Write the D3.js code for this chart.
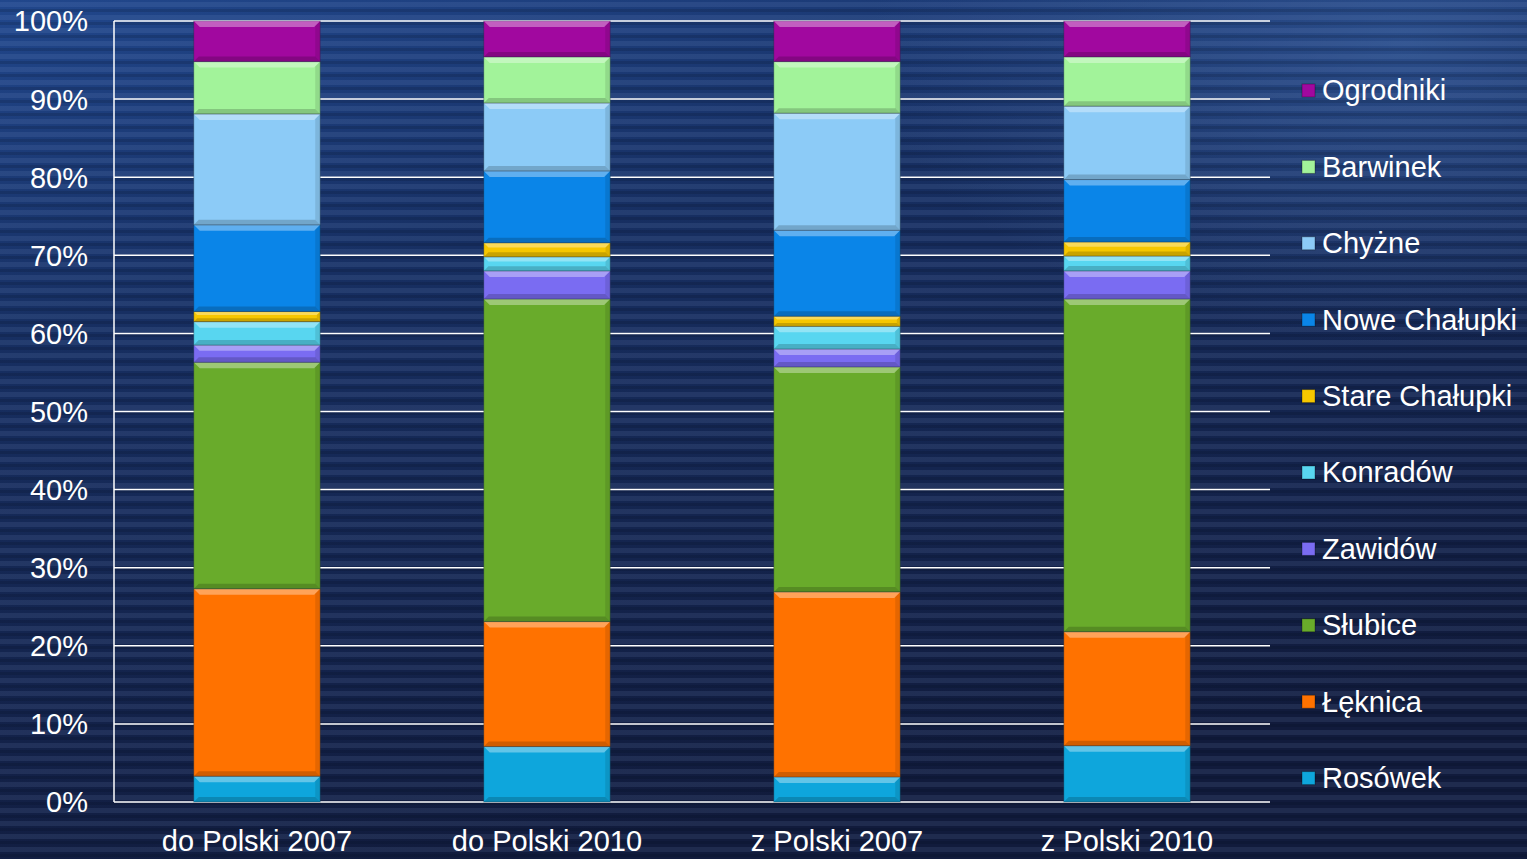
<!DOCTYPE html>
<html>
<head>
<meta charset="utf-8">
<script src="https://cdn.jsdelivr.net/npm/d3@7"></script>
<style>
  html, body { margin: 0; padding: 0; background: #14234a; }
  svg { display: block; font-family: "Liberation Sans", Arial, sans-serif; }
</style>
</head>
<body>
<svg id="chart" width="1527" height="859"></svg>
<script>
// categories along the x axis
const categories = ["do Polski 2007", "do Polski 2010", "z Polski 2007", "z Polski 2010"];

// series, bottom to top of the stack
const series = ["Rosówek", "Łęknica", "Słubice", "Zawidów", "Konradów",
                "Stare Chałupki", "Nowe Chałupki", "Chyżne", "Barwinek", "Ogrodniki"];

// shares in % per category (same order as categories)
const rosowek       = [3.3, 7.1, 3.2, 7.2];
const leknica       = [24.0, 16.0, 23.7, 14.6];
const slubice       = [29.0, 41.3, 28.8, 42.6];
const zawidow       = [2.2, 3.6, 2.3, 3.6];
const konradow      = [3.0, 1.8, 2.9, 1.9];
const stareChalupki = [1.3, 1.8, 1.3, 1.8];
const noweChalupki  = [11.1, 9.2, 11.0, 8.0];
const chyzne        = [14.2, 8.7, 15.0, 9.4];
const barwinek      = [6.7, 5.9, 6.6, 6.3];
const ogrodniki     = [5.2, 4.6, 5.2, 4.6];

const yTicks = [0, 10, 20, 30, 40, 50, 60, 70, 80, 90, 100];

const colors = ["#0ea6dc", "#ff7200", "#69ab2b", "#7a6cf2", "#58d6f0",
                "#f6c700", "#0a85e8", "#8ccbf7", "#a2f39a", "#a1089f"];

const values = [rosowek, leknica, slubice, zawidow, konradow,
                stareChalupki, noweChalupki, chyzne, barwinek, ogrodniki];

// build rows for d3.stack
const rows = categories.map(function(c, i) {
  let r = { cat: c };
  series.forEach(function(s, j) { r[s] = values[j][i]; });
  return r;
});

const width = 1527, height = 859;
const fontSize = "29px";
const svg = d3.select("#chart");
const defs = svg.append("defs");

// background: navy gradient + horizontal stripes
const bg = defs.append("linearGradient").attr("id", "bg")
  .attr("x1", 0).attr("y1", 0).attr("x2", 0.35).attr("y2", 1);
bg.append("stop").attr("offset", "0%").attr("stop-color", "#21478c");
bg.append("stop").attr("offset", "35%").attr("stop-color", "#172f62");
bg.append("stop").attr("offset", "100%").attr("stop-color", "#111b3c");

const bg2 = defs.append("radialGradient").attr("id", "bg2")
  .attr("cx", 0.92).attr("cy", 0.05).attr("r", 0.35);
bg2.append("stop").attr("offset", "0%").attr("stop-color", "#3a64a8").attr("stop-opacity", 0.55);
bg2.append("stop").attr("offset", "100%").attr("stop-color", "#3a64a8").attr("stop-opacity", 0);

const stripes = defs.append("pattern").attr("id", "stripes")
  .attr("patternUnits", "userSpaceOnUse").attr("width", 20).attr("height", 13);
stripes.append("rect").attr("width", 20).attr("height", 5).attr("y", 2)
  .attr("fill", "#8fb0e6").attr("opacity", 0.11);
stripes.append("rect").attr("width", 20).attr("height", 3).attr("y", 9)
  .attr("fill", "#000814").attr("opacity", 0.15);

svg.append("rect").attr("width", width).attr("height", height).attr("fill", "url(#bg)");
svg.append("rect").attr("width", width).attr("height", height).attr("fill", "url(#bg2)");
svg.append("rect").attr("width", width).attr("height", height).attr("fill", "url(#stripes)");

const margin = { left: 114, right: 257, top: 21, bottom: 57 };
const plotW = width - margin.left - margin.right;   // 1156
const plotH = height - margin.top - margin.bottom;  // 781

const x = d3.scaleBand().domain(categories)
  .range([margin.left, margin.left + plotW])
  .paddingInner(0.564).paddingOuter(0.275);
const y = d3.scaleLinear().domain([0, 100]).range([margin.top + plotH, margin.top]);

// gridlines
svg.append("g").selectAll("line").data(yTicks).enter().append("line")
  .attr("x1", margin.left).attr("x2", margin.left + plotW)
  .attr("y1", d => y(d)).attr("y2", d => y(d))
  .attr("stroke", "#ffffff").attr("stroke-width", 1.5);

// y axis line
svg.append("line")
  .attr("x1", margin.left).attr("x2", margin.left)
  .attr("y1", y(0)).attr("y2", y(100))
  .attr("stroke", "#ffffff").attr("stroke-width", 1.5);

// y tick labels
svg.append("g").selectAll("text").data(yTicks).enter().append("text")
  .attr("x", 88).attr("y", d => y(d)).attr("dy", "0.36em")
  .attr("text-anchor", "end").attr("fill", "#ffffff")
  .style("font-size", fontSize)
  .text(d => d + "%");

// x labels
svg.append("g").selectAll("text").data(categories).enter().append("text")
  .attr("x", d => x(d) + x.bandwidth() / 2).attr("y", 851)
  .attr("text-anchor", "middle").attr("fill", "#ffffff")
  .style("font-size", fontSize)
  .text(d => d);

// stacked bars
const stacked = d3.stack().keys(series)(rows);

const layer = svg.append("g").selectAll("g").data(stacked).enter().append("g")
  .attr("fill", (d, i) => colors[i]);

const seg = layer.selectAll("g").data(d => d).enter().append("g");

seg.append("rect")
  .attr("x", d => x(d.data.cat))
  .attr("y", d => y(d[1]))
  .attr("width", x.bandwidth())
  .attr("height", d => y(d[0]) - y(d[1]))
  .attr("stroke", "#1a2a3a").attr("stroke-opacity", 0.35).attr("stroke-width", 1);

// bevel: lighter top, darker bottom and right side
seg.append("path")
  .attr("d", function(d) {
    const x0 = x(d.data.cat), x1 = x0 + x.bandwidth();
    const t = y(d[1]), h = y(d[0]) - y(d[1]);
    const b = Math.min(6, h / 3);
    return "M" + x0 + "," + t + "L" + x1 + "," + t + "L" + (x1 - b) + "," + (t + b) +
           "L" + (x0 + b) + "," + (t + b) + "Z";
  })
  .attr("fill", "#ffffff").attr("opacity", 0.35);

seg.append("path")
  .attr("d", function(d) {
    const x0 = x(d.data.cat), x1 = x0 + x.bandwidth();
    const t = y(d[1]), bot = y(d[0]), h = bot - t;
    const b = Math.min(5, h / 3);
    return "M" + x0 + "," + bot + "L" + x1 + "," + bot + "L" + (x1 - b) + "," + (bot - b) +
           "L" + (x0 + b) + "," + (bot - b) + "Z";
  })
  .attr("fill", "#000000").attr("opacity", 0.18);

seg.append("path")
  .attr("d", function(d) {
    const x0 = x(d.data.cat), x1 = x0 + x.bandwidth();
    const t = y(d[1]), bot = y(d[0]), h = bot - t;
    const b = Math.min(5, h / 3);
    return "M" + x1 + "," + t + "L" + x1 + "," + bot + "L" + (x1 - b) + "," + (bot - b) +
           "L" + (x1 - b) + "," + (t + b) + "Z";
  })
  .attr("fill", "#000000").attr("opacity", 0.1);

// legend (top item is last series)
const legendItems = series.slice().reverse();
const legendColors = colors.slice().reverse();
const leg = svg.append("g").selectAll("g").data(legendItems).enter().append("g")
  .attr("transform", (d, i) => "translate(1302," + (90 + i * 76.4) + ")");

leg.append("rect")
  .attr("x", 0).attr("y", -6).attr("width", 13).attr("height", 13)
  .attr("fill", (d, i) => legendColors[i])
  .attr("stroke", "#000000").attr("stroke-opacity", 0.3);

leg.append("text")
  .attr("x", 20).attr("y", 0).attr("dy", "0.36em")
  .attr("fill", "#ffffff").style("font-size", fontSize)
  .text(d => d);
</script>
</body>
</html>
